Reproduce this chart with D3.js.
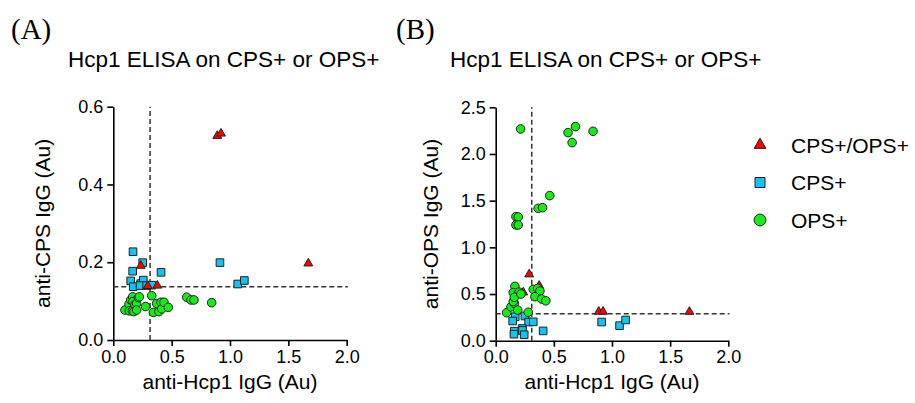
<!DOCTYPE html>
<html>
<head>
<meta charset="utf-8">
<script src="https://cdn.jsdelivr.net/npm/d3@7"></script>
<style>
  html, body { margin: 0; padding: 0; background: #fff; }
  svg { display: block; }
  text { font-family: "Liberation Sans", Arial, sans-serif; fill: #000; }
</style>
</head>
<body>
<svg id="chart" width="915" height="403"></svg>
<script>
// ---------- data ----------
const X_TICKS = [0, 0.5, 1.0, 1.5, 2.0];
const A_Y_TICKS = [0, 0.2, 0.4, 0.6];
const B_Y_TICKS = [0, 0.5, 1.0, 1.5, 2.0, 2.5];
const SERIES_NAMES = ["CPS+/OPS+", "CPS+", "OPS+"];
const PANEL_LABELS = ["(A)", "(B)"];
const TITLE = "Hcp1 ELISA on CPS+ or OPS+";
const X_LABEL = "anti-Hcp1 IgG (Au)";
const A_Y_LABEL = "anti-CPS IgG (Au)";
const B_Y_LABEL = "anti-OPS IgG (Au)";

// cut-off values (dashed lines)
const A_CUT = [0.315, 0.137];
const B_CUT = [0.31, 0.29];

// Panel A: anti-Hcp1 (x) vs anti-CPS (y)
const A_BOTH_X = [0.891, 0.923, 1.671, 0.235, 0.295, 0.377];
const A_BOTH_Y = [0.525, 0.531, 0.197, 0.191, 0.139, 0.140];
const A_CPS_X = [0.169, 0.252, 0.166, 0.409, 0.149, 0.171, 0.235, 0.257, 0.229, 0.286, 0.329, 0.914, 1.066, 1.123];
const A_CPS_Y = [0.227, 0.199, 0.177, 0.174, 0.152, 0.137, 0.145, 0.154, 0.140, 0.140, 0.141, 0.199, 0.144, 0.153];
const A_OPS_X = [0.100, 0.135, 0.137, 0.149, 0.163, 0.166, 0.169, 0.177, 0.186, 0.200, 0.200, 0.215, 0.223, 0.277, 0.329, 0.343, 0.372, 0.391, 0.409, 0.415, 0.434, 0.471, 0.629, 0.666, 0.691, 0.843];
const A_OPS_Y = [0.077, 0.092, 0.075, 0.103, 0.075, 0.111, 0.099, 0.073, 0.091, 0.094, 0.077, 0.109, 0.111, 0.086, 0.114, 0.071, 0.094, 0.073, 0.097, 0.080, 0.097, 0.084, 0.110, 0.103, 0.103, 0.096];

// Panel B: anti-Hcp1 (x) vs anti-OPS (y)
const B_BOTH_X = [0.886, 0.923, 1.666, 0.237, 0.288, 0.374];
const B_BOTH_Y = [0.311, 0.311, 0.310, 0.518, 0.711, 0.589];
const B_CPS_X = [0.168, 0.146, 0.251, 0.283, 0.323, 0.160, 0.157, 0.228, 0.230, 0.245, 0.408, 0.911, 1.065, 1.117];
const B_CPS_Y = [0.257, 0.211, 0.265, 0.200, 0.202, 0.102, 0.070, 0.131, 0.110, 0.064, 0.105, 0.200, 0.161, 0.222];
const B_OPS_X = [0.214, 0.622, 0.686, 0.657, 0.837, 0.465, 0.365, 0.403, 0.174, 0.194, 0.174, 0.194,
                 0.094, 0.131, 0.160, 0.151, 0.165, 0.151, 0.200, 0.160, 0.217, 0.189, 0.280, 0.323, 0.360, 0.380, 0.337, 0.394, 0.431];
const B_OPS_Y = [2.268, 2.229, 2.293, 2.122, 2.243, 1.554, 1.418, 1.425, 1.329, 1.325, 1.240, 1.240,
                 0.300, 0.362, 0.400, 0.420, 0.582, 0.515, 0.520, 0.465, 0.500, 0.328, 0.305, 0.550, 0.560, 0.532, 0.471, 0.447, 0.427];

// ---------- styles ----------
const COLORS = { both: "#FF0000", cps: "#14C3F0", ops: "#14EE14" };

const svg = d3.select("#chart");

const zip = (xs, ys) => xs.map((x, i) => [x, ys[i]]);

const symTri = d3.symbol().type(d3.symbolTriangle).size(34)();
const symSq = d3.symbol().type(d3.symbolSquare).size(58)();
const symCirc = d3.symbol().type(d3.symbolCircle).size(58)();

function panel(cfg) {
  const g = svg.append("g");
  const x = d3.scaleLinear().domain([0, 2]).range(cfg.xRange);
  const y = d3.scaleLinear().domain([0, cfg.yMax]).range(cfg.yRange);

  // axes
  const xAxis = d3.axisBottom(x).tickValues(X_TICKS).tickFormat(d3.format(".1f"))
    .tickSize(6).tickSizeOuter(0).tickPadding(4);
  const yAxis = d3.axisLeft(y).tickValues(cfg.yTicks).tickFormat(d3.format(".1f"))
    .tickSize(6).tickSizeOuter(0).tickPadding(4);

  const gx = g.append("g").attr("transform", `translate(0,${cfg.yRange[0]})`).call(xAxis);
  const gy = g.append("g").attr("transform", `translate(${cfg.xRange[0]},0)`).call(yAxis);
  [gx, gy].forEach(a => {
    a.selectAll("path.domain").attr("stroke", "#000").attr("stroke-width", 1.6);
    a.selectAll(".tick line").attr("stroke", "#000").attr("stroke-width", 1.6);
    a.selectAll(".tick text").style("font-size", "18px").style("font-family", "Liberation Sans, Arial, sans-serif").attr("fill", "#000");
  });

  // dashed cut-off lines
  g.append("line")
    .attr("x1", x(cfg.cut[0])).attr("x2", x(cfg.cut[0]))
    .attr("y1", y(0)).attr("y2", y(cfg.yMax))
    .attr("stroke", "#333").attr("stroke-width", 1.5).attr("stroke-dasharray", "5,3");
  g.append("line")
    .attr("x1", x(0)).attr("x2", x(2.01))
    .attr("y1", y(cfg.cut[1])).attr("y2", y(cfg.cut[1]))
    .attr("stroke", "#333").attr("stroke-width", 1.5).attr("stroke-dasharray", "5,3");

  // points: squares, triangles, circles
  g.append("g").selectAll("path").data(zip(cfg.cpsX, cfg.cpsY)).join("path")
    .attr("d", symSq).attr("transform", d => `translate(${x(d[0])},${y(d[1])})`)
    .attr("fill", COLORS.cps).attr("stroke", "#222").attr("stroke-width", 1);
  g.append("g").selectAll("path").data(zip(cfg.bothX, cfg.bothY)).join("path")
    .attr("d", symTri).attr("transform", d => `translate(${x(d[0])},${y(d[1])})`)
    .attr("fill", COLORS.both).attr("stroke", "#222").attr("stroke-width", 1);
  g.append("g").selectAll("path").data(zip(cfg.opsX, cfg.opsY)).join("path")
    .attr("d", symCirc).attr("transform", d => `translate(${x(d[0])},${y(d[1])})`)
    .attr("fill", COLORS.ops).attr("stroke", "#222").attr("stroke-width", 1);

  // labels
  g.append("text").text(cfg.panelLabel)
    .attr("x", cfg.panelPos[0]).attr("y", cfg.panelPos[1])
    .style("font-family", "Liberation Serif, 'Times New Roman', serif").style("font-size", "29px");
  g.append("text").text(TITLE)
    .attr("x", cfg.titlePos[0]).attr("y", cfg.titlePos[1])
    .style("font-size", "22.5px");
  g.append("text").text(X_LABEL)
    .attr("x", x(1)).attr("y", 389).attr("text-anchor", "middle")
    .style("font-size", "21px");
  g.append("text").text(cfg.yLabel)
    .attr("transform", `translate(${cfg.yLabelX},${(y(0) + y(cfg.yMax)) / 2}) rotate(-90)`)
    .attr("text-anchor", "middle")
    .style("font-size", "21px");
}

panel({
  xRange: [113.3, 346.7], yRange: [340, 106.7], yMax: 0.6, yTicks: A_Y_TICKS,
  cut: A_CUT, bothX: A_BOTH_X, bothY: A_BOTH_Y, cpsX: A_CPS_X, cpsY: A_CPS_Y, opsX: A_OPS_X, opsY: A_OPS_Y,
  panelLabel: PANEL_LABELS[0], panelPos: [11, 39], titlePos: [68, 67], yLabel: A_Y_LABEL, yLabelX: 50
});
panel({
  xRange: [495.7, 728.3], yRange: [340.7, 107.3], yMax: 2.5, yTicks: B_Y_TICKS,
  cut: B_CUT, bothX: B_BOTH_X, bothY: B_BOTH_Y, cpsX: B_CPS_X, cpsY: B_CPS_Y, opsX: B_OPS_X, opsY: B_OPS_Y,
  panelLabel: PANEL_LABELS[1], panelPos: [396, 39], titlePos: [450, 67], yLabel: B_Y_LABEL, yLabelX: 438
});

// legend
const legend = svg.append("g");
const legendSyms = [[symTri, COLORS.both], [symSq, COLORS.cps], [symCirc, COLORS.ops]];
SERIES_NAMES.forEach((name, i) => {
  const yy = 145 + i * 37.5;
  legend.append("path").attr("d", d3.symbol().type([d3.symbolTriangle, d3.symbolSquare, d3.symbolCircle][i]).size([60, 100, 110][i])())
    .attr("transform", `translate(760,${yy})`)
    .attr("fill", legendSyms[i][1]).attr("stroke", "#222").attr("stroke-width", 1);
  legend.append("text").text(name).attr("x", 791).attr("y", yy).attr("dy", "0.36em")
    .style("font-size", "21px");
});
</script>
</body>
</html>
